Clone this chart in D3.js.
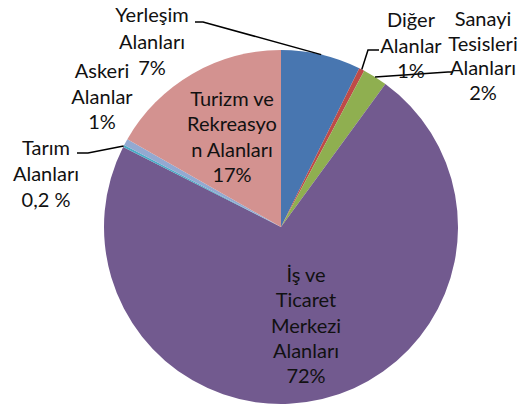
<!DOCTYPE html>
<html>
<head>
<meta charset="utf-8">
<script src="https://cdn.jsdelivr.net/npm/d3@7"></script>
<style>
  body { margin:0; background:#fff; }
  svg text { font-family: Lato, "Open Sans", sans-serif; font-size:20px; fill:#111; }
</style>
</head>
<body>
<svg width="520" height="408"></svg>
<script>
// slices clockwise from 12 o'clock
const categories = ['Yerleşim Alanları', 'Diğer Alanlar', 'Sanayi Tesisleri Alanları',
  'İş ve Ticaret Merkezi Alanları', 'Tarım Alanları', 'Askeri Alanlar', 'Turizm ve Rekreasyon Alanları'];
const values = [7.3, 0.5, 2.25, 72.5, 0.2, 0.6, 16.75];
const valueLabels = ['7%', '1%', '2%', '72%', '0,2 %', '1%', '17%'];
const labelLines = [
  ['Yerleşim', 'Alanları', '7%'],
  ['Diğer', 'Alanlar', '1%'],
  ['Sanayi', 'Tesisleri', 'Alanları', '2%'],
  ['İş ve', 'Ticaret', 'Merkezi', 'Alanları', '72%'],
  ['Tarım', 'Alanları', '0,2 %'],
  ['Askeri', 'Alanlar', '1%'],
  ['Turizm ve', 'Rekreasyo', 'n Alanları', '17%']
];
const colors = ['#4876B0', '#BE4B48', '#8FAF50', '#725A8F', '#4BACC6', '#93A9D1', '#D39290'];

const svg = d3.select('svg');
const cx = 281, cy = 227, radius = 177;

// label placement: x centre, first baseline, line step, leader start point
const labelPos = [
  { x:152, y:22, step:26.5, leader:[[195,22],[203,22]] },
  { x:411, y:27, step:25.5, leader:[[379,50],[368,50]] },
  { x:483, y:26, step:24.5, leader:[[453,72],[448,72]] },
  { x:306, y:282, step:25.3, leader:null },
  { x:46, y:155, step:26, leader:[[77,153],[88,153]] },
  { x:102, y:78, step:25.5, leader:null },
  { x:232, y:106, step:25.3, leader:null }
];

const data = categories.map((c, i) => ({ name:c, value:values[i], label:valueLabels[i], i:i }));

const pie = d3.pie().sort(null).value(d => d.value);
const arc = d3.arc().innerRadius(0).outerRadius(radius);
const arcs = pie(data);

const g = svg.append('g').attr('transform', `translate(${cx},${cy})`);

g.selectAll('path').data(arcs)
  .enter().append('path')
    .attr('d', arc)
    .attr('fill', d => colors[d.data.i]);

// leader lines go to the middle of the slice's outer edge
const edgePoint = d => {
  const a = (d.startAngle + d.endAngle) / 2;
  return [cx + radius * Math.sin(a), cy - radius * Math.cos(a)];
};

arcs.forEach(d => {
  const p = labelPos[d.data.i];
  if (!p.leader) return;
  const pts = p.leader.concat([edgePoint(d)]);
  svg.append('path')
    .attr('d', d3.line()(pts))
    .attr('fill', 'none')
    .attr('stroke', '#000')
    .attr('stroke-width', 1.5);
});

arcs.forEach(d => {
  const p = labelPos[d.data.i];
  const t = svg.append('text').attr('text-anchor', 'middle');
  labelLines[d.data.i].forEach((line, k) => {
    t.append('tspan')
      .attr('x', p.x)
      .attr('y', p.y + k * p.step)
      .text(line);
  });
});
</script>
</body>
</html>
